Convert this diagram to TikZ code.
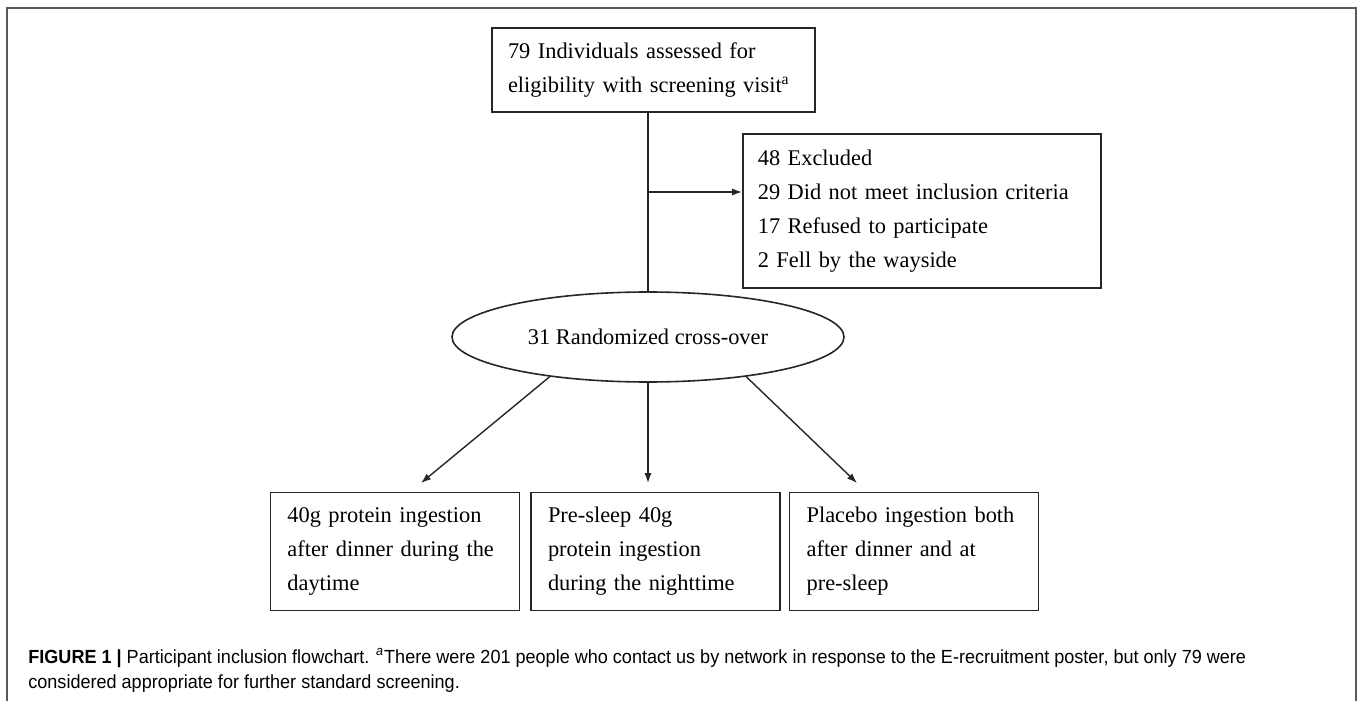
\documentclass[tikz,border=0pt]{standalone}
\usepackage{fontspec}
\setmainfont{Liberation Serif}
\newfontfamily\capfont[FakeStretch=0.95]{Liberation Sans}
\usepackage{tikz}
\usetikzlibrary{shapes.geometric, arrows.meta, positioning, calc}

\begin{document}
\begin{tikzpicture}[
    x=0.5pt, y=-0.5pt,
    % Flowchart boxes (left aligned text)
    box/.style={rectangle, draw=black!85, line width=0.8pt, inner xsep=8pt,
                align=left, font=\fontsize{11.2pt}{17pt}\selectfont},
    % Treatment arm boxes
    armbox/.style={box, text width=107.5pt, inner xsep=8.5pt, minimum height=59pt},
    % Randomisation oval
    oval/.style={ellipse, draw=black!85, line width=0.8pt, minimum width=196pt,
                 minimum height=45pt, font=\fontsize{11.2pt}{17pt}\selectfont},
    arrow/.style={-{Latex[length=5pt,width=3.6pt]}, line width=0.7pt, black!85},
    line/.style={line width=0.7pt, black!85},
    captext/.style={anchor=base west, inner sep=0pt,
                    font=\capfont\fontsize{9.5pt}{12.5pt}\selectfont}
]
\useasboundingbox (0,0) rectangle (1357,701);

%-------- FRAME --------
\draw[black!65, line width=1pt] (7,701) -- (7,8) -- (1356,8) -- (1356,701);

%-------- ASSESSMENT --------
\node[box, text width=145.5pt, minimum height=42pt] (assess) at (653.5,70)
    {79 Individuals assessed for\\
     eligibility with screening visit\textsuperscript{a}};

%-------- EXCLUSION --------
\node[box, text width=164pt, inner xsep=7.5pt, minimum height=77pt,
      anchor=north west] (excl) at (742,133)
    {48 Excluded\\
     29 Did not meet inclusion criteria\\
     17 Refused to participate\\
     2 Fell by the wayside};

%-------- RANDOMISATION --------
\node[oval] (randomized) at (648,337) {31 Randomized cross-over};

%-------- ARMS --------
\node[armbox, below=54.5pt of randomized, xshift=3.75pt] (armB)
    {Pre-sleep 40g\\
     protein ingestion\\
     during the nighttime};
\node[armbox, left=5pt of armB] (armA)
    {40g protein ingestion\\
     after dinner during the\\
     daytime};
\node[armbox, right=4pt of armB] (armC)
    {Placebo ingestion both\\
     after dinner and at\\
     pre-sleep};

%-------- ARROWS --------
\coordinate (split) at (648,192);
\coordinate (tipA) at (421,483);
\coordinate (tipB) at (648,483);
\coordinate (tipC) at (857,483);

\draw[line]  (assess.south -| split) -- (randomized.north);
\draw[arrow] (split) -- (split -| excl.west);
\draw[arrow] (randomized.202)   -- (tipA);
\draw[arrow] (randomized.south) -- (tipB);
\draw[arrow] (randomized.338)   -- (tipC);

%-------- CAPTION --------
\node[captext] (cap1) at (28,663)
    {\textbf{FIGURE 1 |} Participant inclusion flowchart. \textsuperscript{\itshape a}There
     were 201 people who contact us by network in response to the E-recruitment poster,
     but only 79 were};
\node[captext] (cap2) at (28,688)
    {considered appropriate for further standard screening.};

\end{tikzpicture}
\end{document}
